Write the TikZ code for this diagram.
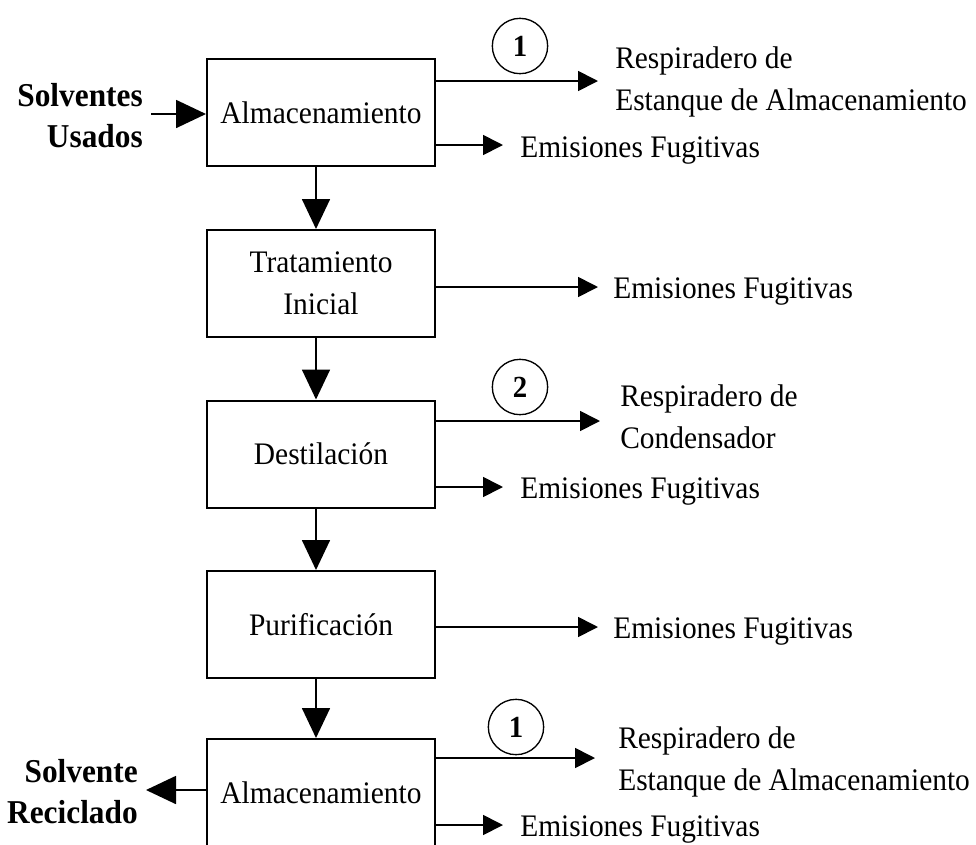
\documentclass[tikz,border=0pt]{standalone}
\usepackage{fontspec}
\setmainfont{Liberation Serif}[FakeStretch=0.94]
\usetikzlibrary{arrows.meta}

\tikzset{
  caja/.style={draw, line width=1.5pt, minimum width=171pt, minimum height=80.25pt,
    align=center, inner sep=0pt, font=\fontsize{23.5}{31.5}\selectfont},
  etiq/.style={inner sep=0pt, align=left, font=\fontsize{23.5}{31.5}\selectfont},
  negrita/.style={inner sep=0pt, align=right, font=\fontsize{25}{30.5}\selectfont\bfseries},
  punto/.style={draw, circle, line width=1pt, minimum size=41.5pt, inner sep=0pt,
    font=\fontsize{23}{23}\selectfont\bfseries},
  grande/.style={line width=1.3pt, -{Triangle[length=22.5pt,width=21pt]}},
  chica/.style={line width=1.3pt, -{Triangle[length=15pt,width=15pt]}}
}

\begin{document}
\begin{tikzpicture}[x=0.75pt, y=-0.75pt]
	\clip (0,0) rectangle (976,844);
	
	% cajas del proceso
	\foreach \n/\y/\t in
	{A/112.5/Almacenamiento, B/283.5/{Tratamiento\\Inicial}, C/454/Destilación, D/624.5/Purificación, E/792.5/Almacenamiento}{
		\node[caja] (\n) at (321,\y) {\t};
	}
	\foreach \a/\b in {A/B, B/C, C/D, D/E}{
		\draw[grande] ([xshift=-3.75pt]\a.south)--([xshift=-3.75pt]\b.north);
	}
	
	% entrada y salida (base = ultima linea)
	\node[negrita, anchor=base east] (sol) at (143,147) {Solventes\\Usados};
	\node[negrita, anchor=base east] (rec) at (138,823) {Solvente\\Reciclado};
	\coordinate (ent) at (151,114);
	\coordinate (sal) at (146,790);
	\draw[grande] (ent)--(A.west |- ent);
	\draw[grande] (E.west |- sal)--(sal);
	
	% puntos de emision
	\foreach \n/\x/\y/\t in
	{p1/520/46/1, p2/520/387/2, p3/516/727/1}{
		\node[punto] (\n) at (\x,\y) {\t};
	}
	\node[etiq, anchor=base west] (r1) at (615,110) {Respiradero de\\Estanque de Almacenamiento};
	\node[etiq, anchor=base west] (r2) at (620,448) {Respiradero de\\Condensador};
	\node[etiq, anchor=base west] (r3) at (618,790) {Respiradero de\\Estanque de Almacenamiento};
	\foreach \n/\x/\y in
	{e1/520/157, e2/613/298, e3/520/498, e4/613/638, e5/520/836}{
		\node[etiq, anchor=base west] (\n) at (\x,\y) {Emisiones Fugitivas};
	}
	
	% flechas laterales
	\foreach \n/\c/\x/\y in
	{A/t1/598/81, C/t2/600/421, E/t3/595/758, A/f1/503/145, B/f2/598/287, C/f3/503/487, D/f4/598/627, E/f5/503/825}{
		\coordinate (\c) at (\x,\y);
		\draw[chica] (\n.east |- \c)--(\c);
	}
\end{tikzpicture}
\end{document}
